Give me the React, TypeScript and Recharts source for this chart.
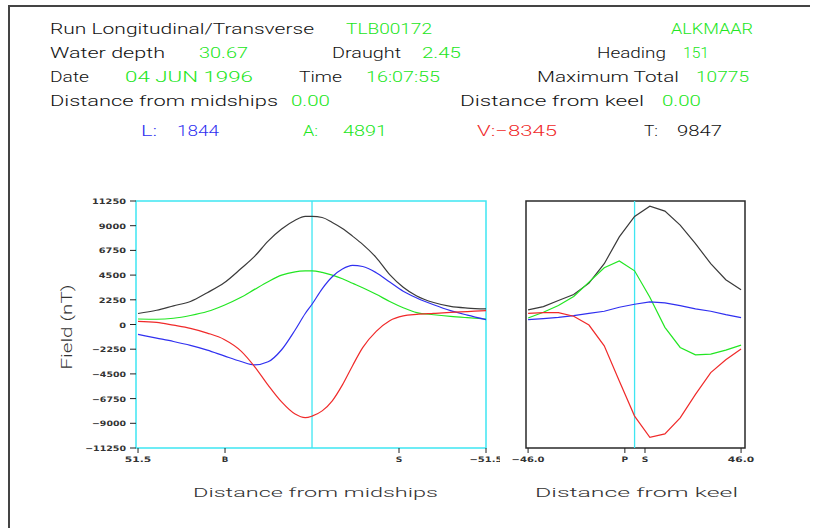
import React from 'react';
import { LineChart, Line, XAxis, YAxis, ReferenceLine, ReferenceArea } from 'recharts';

// distance from midships (x runs 51.5 -> -51.5)
const midX = [51.5, 46, 41, 36, 31, 26, 21, 17, 13, 9, 5, 2, 0, -3, -6, -9, -12, -15, -19, -23, -27, -31, -36, -41, -46, -51.5];
const midL = [-900, -1240, -1550, -1900, -2330, -2860, -3370, -3680, -3400, -2300, -500, 1000, 1844, 3250, 4350, 5050, 5380, 5280, 4720, 3870, 3030, 2420, 1800, 1260, 850, 440];
const midA = [500, 480, 570, 820, 1180, 1760, 2480, 3200, 3900, 4500, 4800, 4880, 4891, 4750, 4500, 4170, 3760, 3350, 2750, 2100, 1530, 1080, 890, 740, 620, 500];
const midV = [290, 200, -60, -350, -780, -1360, -2420, -3830, -5520, -7050, -8160, -8490, -8345, -7870, -6950, -5500, -3750, -2100, -620, 350, 780, 920, 1010, 1100, 1180, 1270];
const midT = [1000, 1300, 1700, 2100, 2900, 3800, 5100, 6200, 7600, 8700, 9500, 9850, 9847, 9750, 9300, 8750, 8050, 7300, 6100, 4550, 3400, 2600, 2000, 1650, 1500, 1420];

// distance from keel
const keelX = [-46, -39.4, -32.9, -26.3, -19.7, -13.1, -6.6, 0, 6.6, 13.1, 19.7, 26.3, 32.9, 39.4, 46];
const keelL = [443, 535, 656, 810, 1020, 1205, 1570, 1844, 2060, 1970, 1725, 1420, 1205, 900, 625];
const keelA = [595, 1110, 1725, 2550, 3860, 5175, 5785, 4891, 2490, -260, -2090, -2760, -2700, -2340, -1880];
const keelV = [1020, 1080, 1080, 750, -50, -1940, -5150, -8345, -10270, -9970, -8500, -6365, -4380, -3220, -2240];
const keelT = [1330, 1630, 2180, 2730, 3770, 5540, 7980, 9847, 10775, 10330, 9050, 7370, 5540, 4075, 3160];

const fieldTicks = [11250, 9000, 6750, 4500, 2250, 0, -2250, -4500, -6750, -9000, -11250];
const midTicks = [51.5, 25.75, -25.75, -51.5];
const midTickLabels = ['51.5', 'B', 'S', '\u221251.5'];
const keelTicks = [-46, -4.2, 4.5, 46];
const keelTickLabels = ['\u221246.0', 'P', 'S', '46.0'];

const midData = midX.map((x, i) => ({ x, L: midL[i], A: midA[i], V: midV[i], T: midT[i] }));
const keelData = keelX.map((x, i) => ({ x, L: keelL[i], A: keelA[i], V: keelV[i], T: keelT[i] }));

const GREEN = '#22e622';
const BLUE = '#3030f0';
const RED = '#f02a2a';
const BLACK = '#3a3a3a';
const CYAN = '#3ee6f2';
const FONT = "Roboto, 'DejaVu Sans', sans-serif";
const TICKFONT = "'DejaVu Sans', sans-serif";

const fmtNum = (v: number) => (v < 0 ? '\u2212' + Math.abs(v) : String(v));

const YTick = (props: any) => {
  const s = fmtNum(props.payload.value);
  return (
    <text x={props.x} y={props.y} dy={3} textAnchor="end" fontSize={7.5} fontWeight="bold" fill="#333"
      fontFamily={TICKFONT} textLength={s.length * 6.8} lengthAdjust="spacingAndGlyphs">{s}</text>
  );
};

const makeXTick = (ticks: number[], labels: string[]) => (props: any) => {
  const i = ticks.indexOf(props.payload.value);
  const s = labels[i] ?? '';
  return (
    <text x={props.x} y={props.y} dy={7} textAnchor="middle" fontSize={7.5} fontWeight="bold" fill="#333"
      fontFamily={TICKFONT} textLength={s.length * 6.6} lengthAdjust="spacingAndGlyphs">{s}</text>
  );
};

const header = [
  { t: 'Run Longitudinal/Transverse', x: 50, y: 34, w: 264, c: '#111' },
  { t: 'TLB00172', x: 346, y: 34, w: 86, c: GREEN },
  { t: 'ALKMAAR', x: 671, y: 34, w: 82, c: GREEN },
  { t: 'Water depth', x: 50, y: 58, w: 115, c: '#111' },
  { t: '30.67', x: 199, y: 58, w: 49, c: GREEN },
  { t: 'Draught', x: 332, y: 58, w: 69, c: '#111' },
  { t: '2.45', x: 422, y: 58, w: 39, c: GREEN },
  { t: 'Heading', x: 597, y: 58, w: 69, c: '#111' },
  { t: '151', x: 683, y: 58, w: 26, c: GREEN },
  { t: 'Date', x: 50, y: 82, w: 39, c: '#111' },
  { t: '04 JUN 1996', x: 125, y: 82, w: 128, c: GREEN },
  { t: 'Time', x: 299, y: 82, w: 43, c: '#111' },
  { t: '16:07:55', x: 366, y: 82, w: 74, c: GREEN },
  { t: 'Maximum Total', x: 537, y: 82, w: 142, c: '#111' },
  { t: '10775', x: 696, y: 82, w: 53, c: GREEN },
  { t: 'Distance from midships', x: 50, y: 106, w: 228, c: '#111' },
  { t: '0.00', x: 291, y: 106, w: 39, c: GREEN },
  { t: 'Distance from keel', x: 460, y: 106, w: 184, c: '#111' },
  { t: '0.00', x: 662, y: 106, w: 39, c: GREEN },
  { t: 'L:', x: 141, y: 136, w: 16, c: BLUE },
  { t: '1844', x: 177, y: 136, w: 42, c: BLUE },
  { t: 'A:', x: 303, y: 136, w: 15, c: GREEN },
  { t: '4891', x: 343, y: 136, w: 44, c: GREEN },
  { t: 'V:\u22128345', x: 477, y: 136, w: 80, c: RED },
  { t: 'T:', x: 644, y: 136, w: 14, c: '#111' },
  { t: '9847', x: 677, y: 136, w: 45, c: '#111' },
];

const titles = [
  { t: 'Distance from midships', x: 193, y: 497, w: 245 },
  { t: 'Distance from keel', x: 535, y: 497, w: 203 },
];

const series = [
  { key: 'T', color: BLACK },
  { key: 'A', color: GREEN },
  { key: 'L', color: BLUE },
  { key: 'V', color: RED },
];

export default function App() {
  return (
    <div style={{ position: 'absolute', left: 0, top: 0, width: 814, height: 528, background: '#fff', overflow: 'hidden' }}>
      <div style={{ position: 'absolute', left: 40, top: 190 }}>
        <LineChart width={460} height={300} data={midData} margin={{ top: 11, right: 14, bottom: 12, left: 36 }}>
          <XAxis dataKey="x" type="number" domain={[-51.5, 52.1]} reversed allowDataOverflow ticks={midTicks}
            height={30} axisLine={false} tickSize={5} tickLine={{ stroke: '#222' }}
            tick={makeXTick(midTicks, midTickLabels)} interval={0} />
          <YAxis type="number" domain={[-11250, 11250]} ticks={fieldTicks} width={60} axisLine={false}
            tickSize={6} tickMargin={4} tickLine={{ stroke: '#222' }} tick={YTick} interval={0} allowDataOverflow />
          <ReferenceArea x1={-51.5} x2={52.1} y1={-11250} y2={11250} stroke={CYAN} strokeWidth={1.5} fill="none" fillOpacity={0} />
          <ReferenceLine x={0} stroke={CYAN} strokeWidth={1.3} />
          {series.map((s) => (
            <Line key={s.key} dataKey={s.key} type="monotone" stroke={s.color} strokeWidth={1.2} dot={false} isAnimationActive={false} />
          ))}
        </LineChart>
      </div>
      <div style={{ position: 'absolute', left: 510, top: 190 }}>
        <LineChart width={250} height={300} data={keelData} margin={{ top: 11, right: 15, bottom: 12, left: 16 }}>
          <XAxis dataKey="x" type="number" domain={[-46.9, 47.7]} allowDataOverflow ticks={keelTicks}
            height={30} axisLine={false} tickSize={5} tickLine={{ stroke: '#222' }}
            tick={makeXTick(keelTicks, keelTickLabels)} interval={0} />
          <YAxis hide type="number" domain={[-11250, 11250]} allowDataOverflow />
          <ReferenceArea x1={-46.9} x2={47.7} y1={-11250} y2={11250} stroke="#2a2a2a" strokeWidth={1.5} fill="none" fillOpacity={0} />
          <ReferenceLine x={0} stroke={CYAN} strokeWidth={1.3} />
          {series.map((s) => (
            <Line key={s.key} dataKey={s.key} type="linear" stroke={s.color} strokeWidth={1.2} dot={false} isAnimationActive={false} />
          ))}
        </LineChart>
      </div>
      <svg width={814} height={528} style={{ position: 'absolute', left: 0, top: 0, pointerEvents: 'none' }}>
        <line x1={8} y1={6} x2={810} y2={6} stroke="#444" strokeWidth={2} />
        <line x1={9} y1={5} x2={9} y2={528} stroke="#444" strokeWidth={2} />
        {header.map((h, i) => (
          <text key={i} x={h.x} y={h.y} fill={h.c} fontSize={15} fontWeight={300} fontFamily={FONT}
            textLength={h.w} lengthAdjust="spacingAndGlyphs">{h.t}</text>
        ))}
        {titles.map((h, i) => (
          <text key={'t' + i} x={h.x} y={h.y} fill="#333" fontSize={13.5} fontWeight={300} fontFamily={FONT}
            textLength={h.w} lengthAdjust="spacingAndGlyphs">{h.t}</text>
        ))}
        <text x={0} y={0} transform="translate(72,327) rotate(-90)" textAnchor="middle" fill="#333" fontSize={14}
          fontWeight={300} fontFamily={FONT} textLength={85} lengthAdjust="spacingAndGlyphs">Field (nT)</text>
      </svg>
    </div>
  );
}
